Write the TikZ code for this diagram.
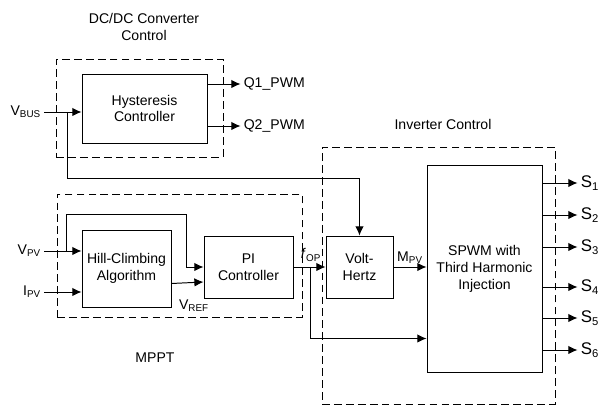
\documentclass[tikz,border=0pt]{standalone}
\usepackage{fontspec}
\setmainfont{Liberation Sans}
\usetikzlibrary{arrows.meta,calc}
\newlength\pxu
\setlength\pxu{0.025cm}
\begin{document}
\begin{tikzpicture}[
    x=0.025cm, y=-0.025cm,
    font=\fontsize{10}{12}\selectfont,
    box/.style={rectangle, draw, line width=0.7pt, align=center, inner sep=0pt},
    group/.style={rectangle, draw, dash pattern=on 5.5pt off 3pt, line width=0.6pt, inner sep=0pt},
    arrow/.style={-{Latex[length=6.5pt,width=6pt]}, line width=0.7pt},
    sig/.style={inner sep=2pt}
]
\useasboundingbox (0,0) rectangle (608,405);

% DC/DC converter control
\node[group, minimum width=167\pxu, minimum height=98\pxu] (dcdc) at (139.5,108) {};
\node[align=center] (dcdctitle) at (144,27) {DC/DC Converter\\Control};
\node[box, minimum width=125\pxu, minimum height=69\pxu] (hyst) at (144.5,108.5) {Hysteresis\\Controller};

% MPPT
\node[group, minimum width=245\pxu, minimum height=123\pxu] (mppt) at (179.5,255.5) {};
\node (mppttitle) at (155,358) {MPPT};
\node[box, minimum width=89\pxu, minimum height=77\pxu] (hc) at (126.5,268.5) {Hill-Climbing\\Algorithm};
\node[box, minimum width=89\pxu, minimum height=62\pxu] (pi) at (248.5,267) {PI\\Controller};

% Inverter control
\node[group, minimum width=233\pxu, minimum height=257\pxu] (inv) at (438.5,275.5) {};
\node (invtitle) at (443,124) {Inverter Control};
\node[box, minimum width=67\pxu, minimum height=62\pxu] (vh) at (359.5,267) {Volt-\\Hertz};
\node[box, minimum width=115\pxu, minimum height=207\pxu] (spwm) at (484.5,268.5) {SPWM with\\Third Harmonic\\Injection};

% Input signals
\node[sig, anchor=east] (vbus) at (44,112) {V\textsubscript{BUS}};
\node[sig, anchor=east] (vpv) at (44,251) {V\textsubscript{PV}};
\node[sig, anchor=east] (ipv) at (44,292) {I\textsubscript{PV}};

% Arrows
\draw[arrow] (vbus.east) -- (hyst.west |- vbus.east);
\draw[arrow] (vpv.east) -- (hc.west |- vpv.east);
\draw[arrow] (ipv.east) -- (hc.west |- ipv.east);
\draw[arrow] ($(hyst.east)+(0,-24.5)$) -- ++(33,0) node[sig, right] (q1) {Q1\_PWM};
\draw[arrow] ($(hyst.east)+(0,17.5)$) -- ++(33,0) node[sig, right] (q2) {Q2\_PWM};

\coordinate (jbus) at (67,112);
\draw[arrow] (jbus) -- ++(0,66) -| (vh.north);

\coordinate (jpv) at (66,251);
\coordinate (fb) at (186,214);
\draw[arrow] (jpv) |- (fb) |- (pi.west);
\draw[arrow] ($(hc.east)+(0,15)$) -- ($(pi.west)+(0,15)$);
\node[sig] (vref) at (194,306) {V\textsubscript{REF}};

\draw[arrow] (pi.east) -- (vh.west);
\node[sig] (fop) at (311,255) {\textit{f}\textsubscript{OP}};
\coordinate (jf) at (310,267);
\draw[arrow] (jf) |- ($(spwm.west)+(0,70)$);
\draw[arrow] (vh.east) -- node[sig, above] (mpv) {M\textsubscript{PV}} (spwm.west |- vh.east);

% Switching signals
\foreach \i/\y in {1/183,2/215,3/247,4/287,5/318,6/350}
    \draw[arrow] (spwm.east |- 0,\y) -- ++(35,0) node[sig, right, font=\fontsize{12}{14}\selectfont] (s\i) {S\textsubscript{\i}};

\end{tikzpicture}
\end{document}
